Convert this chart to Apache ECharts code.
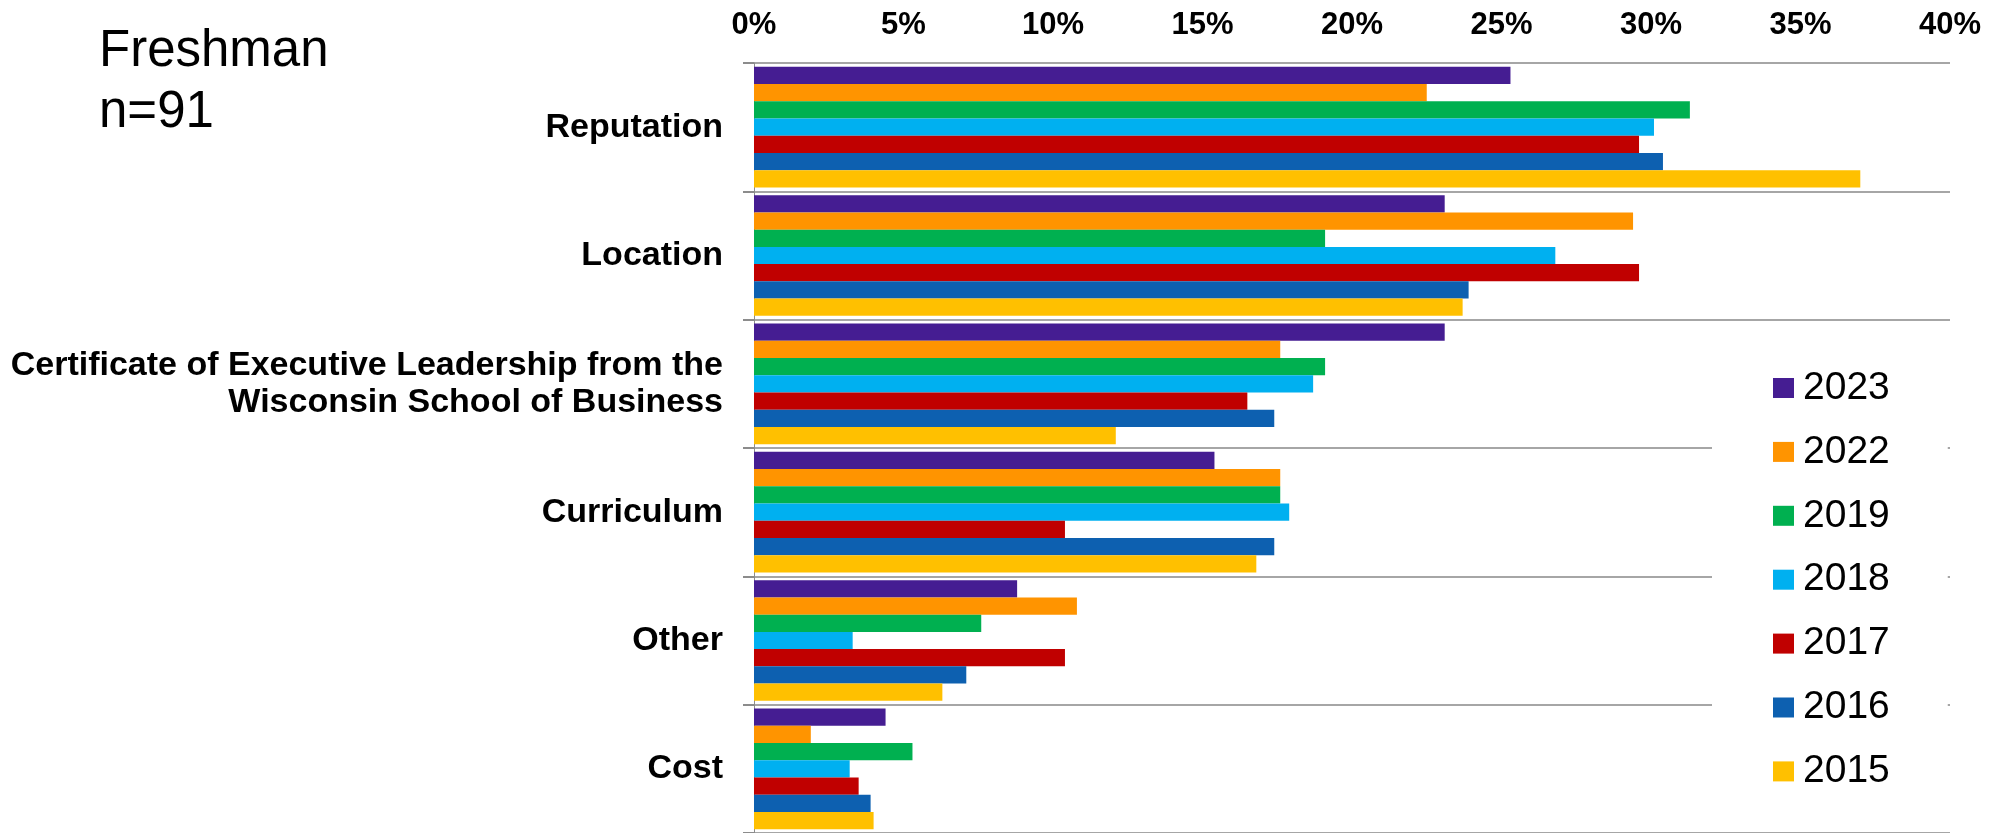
<!DOCTYPE html>
<html>
<head>
<meta charset="utf-8">
<script src="https://cdn.jsdelivr.net/npm/echarts@6/dist/echarts.min.js"></script>
<style>
  html, body { margin: 0; padding: 0; background: #fff; }
  #chart { width: 2004px; height: 833px; }
</style>
</head>
<body>
<div id="chart"></div>
<script>
const categories = ['Reputation', 'Location', 'Certificate of Executive Leadership from the\nWisconsin School of Business', 'Curriculum', 'Other', 'Cost'];
const years = ['2023', '2022', '2019', '2018', '2017', '2016', '2015'];
const colors = ['#451D92', '#FF9400', '#00B050', '#00B0F0', '#C00000', '#0D60B0', '#FFC000'];
const v2023 = [25.3, 23.1, 23.1, 15.4, 8.8, 4.4];
const v2022 = [22.5, 29.4, 17.6, 17.6, 10.8, 1.9];
const v2019 = [31.3, 19.1, 19.1, 17.6, 7.6, 5.3];
const v2018 = [30.1, 26.8, 18.7, 17.9, 3.3, 3.2];
const v2017 = [29.6, 29.6, 16.5, 10.4, 10.4, 3.5];
const v2016 = [30.4, 23.9, 17.4, 17.4, 7.1, 3.9];
const v2015 = [37.0, 23.7, 12.1, 16.8, 6.3, 4.0];
const seriesValues = [v2023, v2022, v2019, v2018, v2017, v2016, v2015];
const xTicks = { min: 0, max: 40, interval: 5 };

const FONT = '"Liberation Sans", Arial, sans-serif';
const chart = echarts.init(document.getElementById('chart'), null, { renderer: 'canvas' });
chart.setOption({
  backgroundColor: '#ffffff',
  animation: false,
  title: {
    text: 'Freshman\nn=91',
    left: 99, top: 21, padding: 0,
    textStyle: { fontFamily: FONT, fontSize: 51, fontWeight: 'normal', color: '#000', lineHeight: 61 }
  },
  legend: {
    orient: 'vertical',
    left: 1712, top: 338,
    padding: [30, 58, 30, 61],
    backgroundColor: '#ffffff',
    itemWidth: 21, itemHeight: 20,
    itemGap: 23.9,
    icon: 'rect',
    data: years,
    textStyle: { fontFamily: FONT, fontSize: 39, color: '#000', lineHeight: 40, padding: [0, 0, 0, 4] }
  },
  grid: { left: 754, right: 54, top: 63, height: 771, containLabel: false },
  xAxis: {
    type: 'value', position: 'top',
    min: xTicks.min, max: xTicks.max, interval: xTicks.interval,
    axisLine: { show: false }, axisTick: { show: false }, splitLine: { show: false },
    axisLabel: { formatter: '{value}%', fontFamily: FONT, fontSize: 31, fontWeight: 'bold', color: '#000', margin: 22 }
  },
  yAxis: {
    type: 'category', inverse: true, data: categories,
    axisLine: { show: true, lineStyle: { color: '#8c8c8c', width: 1 } },
    axisTick: { show: true, length: 11, lineStyle: { color: '#8c8c8c', width: 2 } },
    splitLine: { show: true, lineStyle: { color: '#a6a6a6', width: 2 } },
    axisLabel: { fontFamily: FONT, fontSize: 34, fontWeight: 'bold', color: '#000', margin: 31, lineHeight: 37, align: 'right' }
  },
  series: years.map((y, i) => ({
    name: y, type: 'bar',
    data: seriesValues[i],
    barGap: '0%', barCategoryGap: '6%',
    itemStyle: { color: colors[i] }
  }))
});
</script>
</body>
</html>
